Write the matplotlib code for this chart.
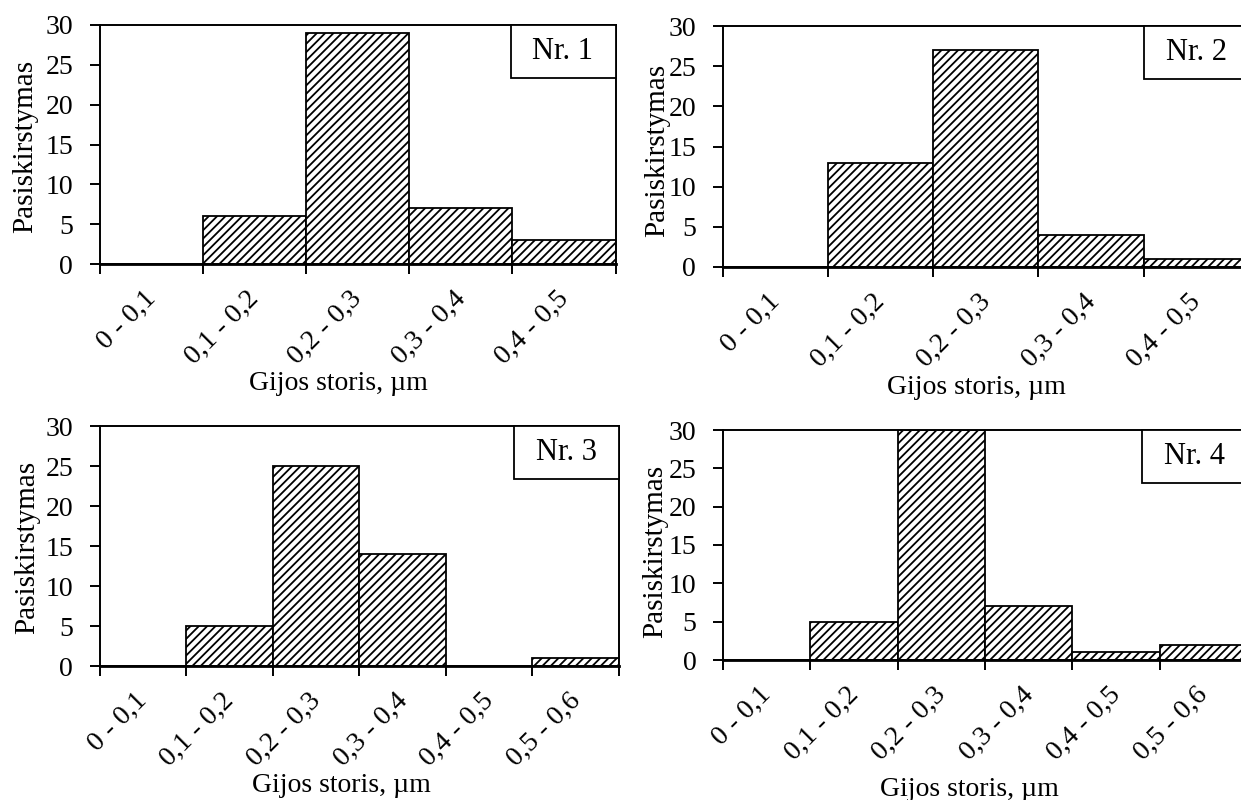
import matplotlib
matplotlib.use('Agg')
import matplotlib.pyplot as plt
from matplotlib.patches import Rectangle
from matplotlib.transforms import ScaledTranslation

plt.rcParams['font.family'] = 'Liberation Serif'
plt.rcParams['hatch.color'] = '#1a1a1a'
plt.rcParams['hatch.linewidth'] = 1.3

# histogramų duomenys
labels_5 = ['0 - 0,1', '0,1 - 0,2', '0,2 - 0,3', '0,3 - 0,4', '0,4 - 0,5']
labels_6 = labels_5 + ['0,5 - 0,6']
counts_1 = [0, 6, 29, 7, 3]
counts_2 = [0, 13, 27, 4, 1]
counts_3 = [0, 5, 25, 14, 0, 1]
counts_4 = [0, 5, 30, 7, 1, 2]
names = ['Nr. 1', 'Nr. 2', 'Nr. 3', 'Nr. 4']
x_title = 'Gijos storis, µm'
y_title = 'Pasiskirstymas'

W, H, DPI = 1241, 800, 100
fig = plt.figure(figsize=(W / DPI, H / DPI), dpi=DPI)

def px_axes(left, top, right, bottom):
    return fig.add_axes([left / W, 1 - bottom / H, (right - left) / W, (bottom - top) / H])

# (kairė, viršus, dešinė, apačia) pikseliais, ašies pavadinimų vietos
panels = [
    (counts_1, labels_5, names[0], (99.5, 25, 615.5, 264), (338, 384), (25, 146)),
    (counts_2, labels_5, names[1], (722.5, 26, 1249, 267), (976, 387), (657, 150)),
    (counts_3, labels_6, names[2], (99.5, 426, 619, 666), (341, 786), (27, 547)),
    (counts_4, labels_6, names[3], (723, 430, 1247, 660), (969, 789), (655, 551)),
]

fs = 20
for counts, labels, name, box, xl, yl in panels:
    ax = px_axes(*box)
    n = len(counts)
    pos = list(range(n))
    ax.bar(pos, counts, width=1.0, color='white', edgecolor='black',
           linewidth=1.3, hatch='////', zorder=2)
    ax.set_xlim(-0.5, n - 0.5)
    ax.set_ylim(0, 30)
    ax.set_yticks(range(0, 31, 5))
    ax.set_xticks([i - 0.5 for i in range(n + 1)])
    ax.set_xticklabels([])
    ax.tick_params(axis='both', direction='out', length=7, width=1.4,
                   labelsize=fs)
    ax.tick_params(axis='y', pad=12)
    for sp in ax.spines.values():
        sp.set_linewidth(1.4)
        sp.set_zorder(3)
    ax.spines['bottom'].set_linewidth(2)

    # pasukti intervalų užrašai
    off = ScaledTranslation(-8 / DPI, -22 / DPI, fig.dpi_scale_trans)
    for i, lab in enumerate(labels):
        ax.text(i, 0, lab, transform=ax.get_xaxis_transform() + off,
                rotation=45, ha='right', va='top', rotation_mode='anchor',
                fontsize=fs)

    # pavyzdžio numerio langelis
    ax_w = box[2] - box[0]
    ax_h = box[3] - box[1]
    bw, bh = 105 / ax_w, 53 / ax_h
    ax.add_patch(Rectangle((1 - bw, 1 - bh), bw, bh, transform=ax.transAxes,
                           facecolor='white', edgecolor='black', linewidth=1.3,
                           zorder=5, clip_on=False))
    ax.text(1 - bw / 2, 1 - bh / 2, name, transform=ax.transAxes,
            ha='center', va='center', fontsize=22, zorder=6)

    fig.text(xl[0] / W, 1 - xl[1] / H, x_title, ha='center', va='center', fontsize=fs)
    fig.text(yl[0] / W, 1 - yl[1] / H, y_title, ha='center', va='center',
             rotation=90, fontsize=21)

fig.savefig('out.png', dpi=DPI)
